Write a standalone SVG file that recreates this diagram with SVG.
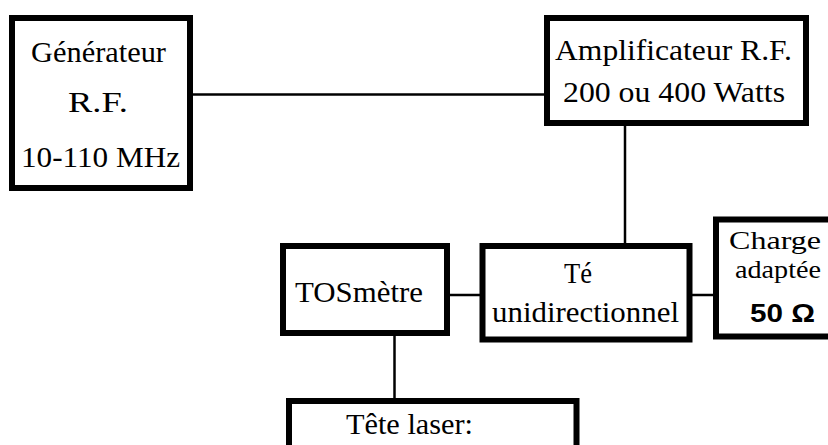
<svg xmlns="http://www.w3.org/2000/svg" width="828" height="445" viewBox="0 0 828 445">
<style>
.box{fill:#fff;stroke:#000;stroke-width:6}
.t{font-family:"Liberation Serif","Times New Roman",serif;font-size:30px;fill:#000}
.s{font-size:26px}
.b{font-family:"Liberation Sans",Arial,sans-serif;font-size:25px;font-weight:bold;fill:#000}
.c line{stroke:#000;stroke-width:2.5}
</style>
<rect width="828" height="445" fill="#fff"/>
<g class="c" id="connectors">
<line x1="190" y1="94.5" x2="547" y2="94.5"/>
<line x1="625" y1="123" x2="625" y2="246"/>
<line x1="447" y1="295" x2="482" y2="295"/>
<line x1="689" y1="295" x2="716" y2="295"/>
<line x1="394.5" y1="333" x2="394.5" y2="401"/>
</g>
<g id="generateur">
<rect class="box" x="12" y="18" width="178" height="170"/>
<text class="t" x="31" y="62" textLength="135" lengthAdjust="spacingAndGlyphs">Générateur</text>
<text class="t" x="68" y="112" textLength="60" lengthAdjust="spacingAndGlyphs">R.F.</text>
<text class="t" x="21" y="167" textLength="159" lengthAdjust="spacingAndGlyphs">10-110 MHz</text>
</g>
<g id="amplificateur">
<rect class="box" x="547" y="18" width="259" height="105"/>
<text class="t" x="555" y="60" textLength="237" lengthAdjust="spacingAndGlyphs">Amplificateur R.F.</text>
<text class="t" x="563" y="102" textLength="222" lengthAdjust="spacingAndGlyphs">200 ou 400 Watts</text>
</g>
<g id="tosmetre">
<rect class="box" x="283" y="246" width="164" height="87"/>
<text class="t" x="295" y="302" textLength="128" lengthAdjust="spacingAndGlyphs">TOSmètre</text>
</g>
<g id="te">
<rect class="box" x="482.5" y="246" width="207" height="93.5"/>
<text class="t" x="564" y="283" textLength="28" lengthAdjust="spacingAndGlyphs">Té</text>
<text class="t" x="492" y="322" textLength="187" lengthAdjust="spacingAndGlyphs">unidirectionnel</text>
</g>
<g id="charge">
<rect class="box" x="716" y="219.5" width="130" height="117"/>
<text class="t s" x="729" y="248.5" textLength="92" lengthAdjust="spacingAndGlyphs">Charge</text>
<text class="t s" x="735" y="278" textLength="86" lengthAdjust="spacingAndGlyphs">adaptée</text>
<text class="b" x="750" y="322" textLength="65" lengthAdjust="spacingAndGlyphs">50 Ω</text>
</g>
<g id="tete">
<rect class="box" x="289" y="401" width="287.5" height="48"/>
<text class="t" x="346" y="433.5" textLength="127" lengthAdjust="spacingAndGlyphs">Tête laser:</text>
</g>
</svg>
